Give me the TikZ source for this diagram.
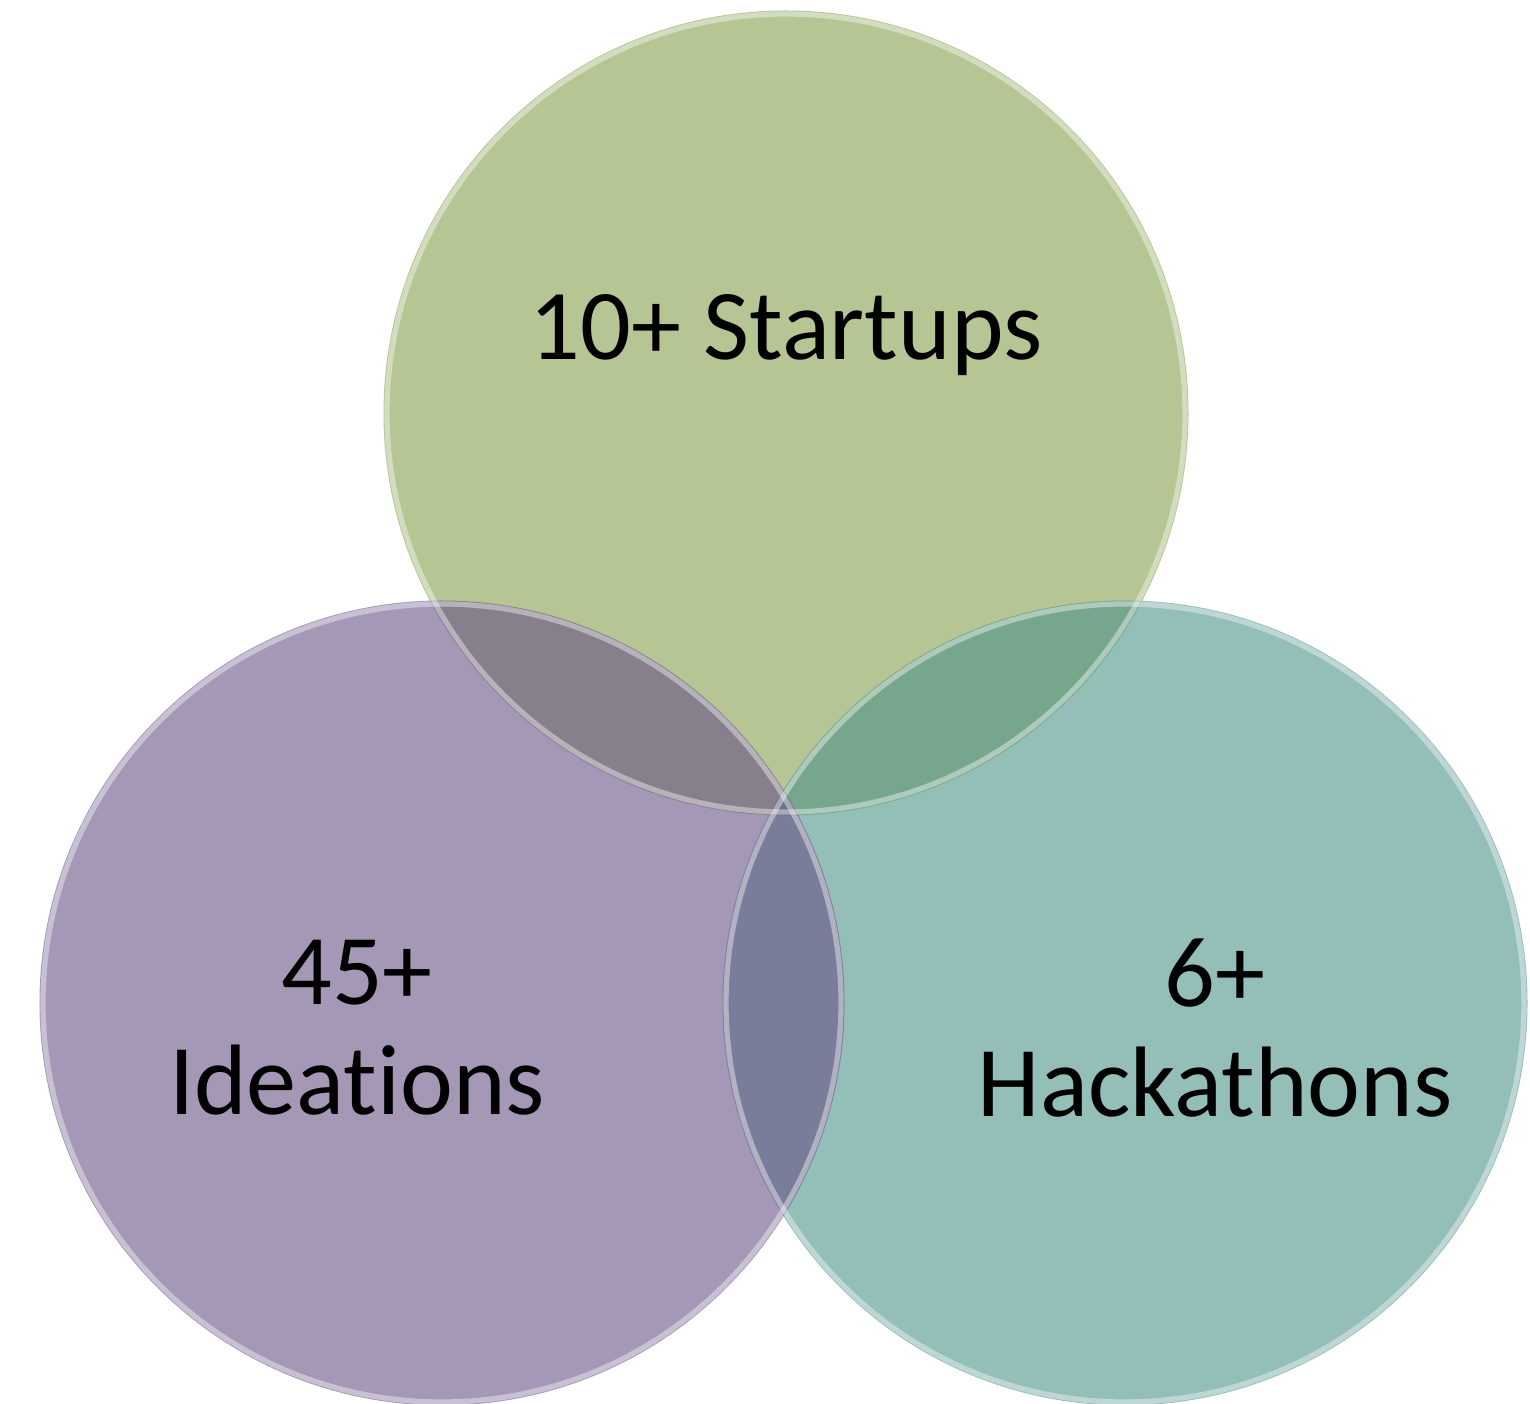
\documentclass[tikz,border=0pt]{standalone}
\usepackage{fontspec}
\setmainfont{Carlito}[Ligatures=NoCommon]
\definecolor{startupgreen}{RGB}{132,158,77}
\definecolor{ideationpurple}{RGB}{105,82,133}
\definecolor{hackteal}{RGB}{77,147,137}

\begin{document}
\begin{tikzpicture}[
        venn/.style={circle, minimum size=8.05cm, inner sep=0pt, fill opacity=0.6},
        rim/.style={draw=white, draw opacity=0.4, line width=1.5pt},
        label/.style={font=\fontsize{28.5}{31.3}\selectfont, align=center, text=black},
    ]
    \useasboundingbox (0,0) rectangle (15.30,-14.04);

    % the three circles, green first so the others lie over it
    \node[venn, fill=startupgreen] (startups) at (7.86,-4.13) {};
    \node[venn, fill=hackteal] (hackathons) at (11.25,-10.03) {};
    \node[venn, fill=ideationpurple] (ideations) at (4.42,-10.03) {};

    % glassy rim just inside each edge
    \foreach \c in {startups,hackathons,ideations} {
        \draw[rim] (\c.center) circle (3.99cm);
    }

    \node[label, anchor=base] (startupstext) at (7.86,-3.60) {10+ Startups};
    \node[label] (ideationstext) at (3.57,-10.28) {45+\\Ideations};
    \node[label] (hackathonstext) at (12.15,-10.28) {6+\\Hackathons};
\end{tikzpicture}
\end{document}
